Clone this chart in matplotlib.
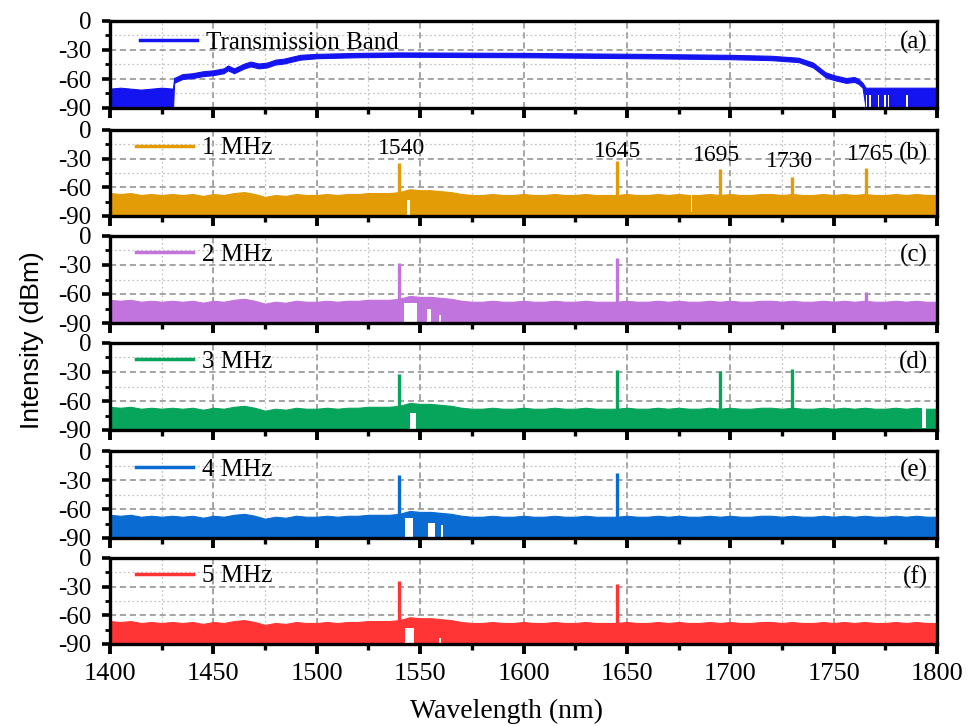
import matplotlib
matplotlib.use('Agg')
import matplotlib.pyplot as plt
from matplotlib.ticker import MultipleLocator
from matplotlib.lines import Line2D

plt.rcParams['font.family'] = 'Liberation Serif'
plt.rcParams['axes.unicode_minus'] = False

# noise floor shared by panels (b)-(f), one value every 5 nm
floor_wl = list(range(1400, 1805, 5))
floor_top = [-66, -67, -66, -68, -67, -68, -67, -68, -67, -69,
             -67, -68, -66, -65, -67, -70, -68, -69, -67, -68,
             -68, -67, -68, -67, -67, -66, -66, -66, -65, -62,
             -63, -63, -64, -65, -67, -68, -68, -67, -68, -68,
             -67, -68, -68, -67, -68, -68, -67, -68, -68, -68,
             -67, -68, -68, -67, -68, -67, -68, -68, -67, -68,
             -67, -68, -68, -67, -67, -68, -67, -68, -68, -67,
             -68, -67, -68, -67, -68, -68, -67, -68, -67, -68, -68]

# (a) transmission band: upper / lower edge of the trace
band_wl = [1400, 1405, 1410, 1415, 1420, 1425, 1430.5, 1431, 1435, 1440,
           1445, 1450, 1455, 1457, 1460, 1465, 1468, 1472, 1476, 1480,
           1484, 1488, 1492, 1500, 1510, 1520, 1540, 1600, 1656, 1700,
           1720, 1733, 1740, 1746, 1750, 1756, 1760, 1762, 1764, 1765.5,
           1770, 1780, 1790, 1800]
band_top = [-70, -69, -70, -71, -70, -69, -70, -59, -55, -54,
            -52, -51, -49, -46, -49, -44, -42, -44, -43, -40,
            -39, -37, -35, -34, -33.5, -33, -32.5, -33, -34, -35,
            -36, -38, -43, -53, -56, -59, -58, -60, -64, -69,
            -69, -69, -69, -69]
band_bot = [-90, -90, -90, -90, -90, -90, -90, -64, -60, -59,
            -57, -56, -54, -51, -54, -49, -47, -49, -48, -45,
            -44, -42, -40, -38.5, -38, -37.5, -37, -37.5, -38.5, -39.5,
            -40.5, -42.5, -48, -58, -61, -64, -63, -65, -69, -90,
            -90, -90, -90, -90]
band_gaps = [1766.0, 1767.6, 1771.7, 1774.9, 1776.5, 1785.4]

names = ['1 MHz', '2 MHz', '3 MHz', '4 MHz', '5 MHz']
colors = ['#e39b06', '#c173de', '#06a55b', '#0a6bd3', '#ff3535']
tags = ['(b)', '(c)', '(d)', '(e)', '(f)']

peak_wl = [[1540, 1645, 1695, 1730, 1765.5],
           [1540, 1645, 1765.5],
           [1540, 1645, 1695, 1730],
           [1540, 1645],
           [1540, 1645]]
peak_db = [[-35, -32.5, -41, -49, -40],
           [-28, -23, -58],
           [-32, -28, -29, -27],
           [-25, -23],
           [-24, -27.5]]

# white holes in each trace: (start nm, end nm, low dBm, high dBm)
holes = [[(1543.6, 1545.0, -90, -73), (1681.0, 1681.7, -86, -66)],
         [(1542.3, 1548.3, -90, -69), (1553.2, 1555.1, -90, -75.5), (1559.3, 1560.1, -90, -82)],
         [(1545.0, 1548.0, -90, -72), (1792.8, 1794.6, -88, -67)],
         [(1542.7, 1546.6, -90, -69), (1553.8, 1557.2, -90, -74.5), (1560.1, 1561.0, -90, -76.5)],
         [(1542.7, 1547.0, -90, -73), (1559.0, 1560.0, -90, -84)]]

# peak labels in panel (b)
lab_txt = ['1540', '1645', '1695', '1730', '1765']
lab_wl = [1541, 1645.7, 1693.5, 1728.5, 1767.7]
lab_db = [-19, -22, -27, -33, -26]

# panel edges in pixels (top, bottom)
rows = [(21, 108), (130, 216), (236, 323), (343, 430), (451, 538), (558, 644)]
W, H = 971, 726

fig = plt.figure(figsize=(W / 100, H / 100), dpi=100)
axes = []
for top, bot in rows:
    ax = fig.add_axes([110 / W, 1 - bot / H, 827 / W, (bot - top) / H])
    axes.append(ax)


def style(ax, last):
    ax.set_xlim(1400, 1800)
    ax.set_ylim(-90, 0)
    ax.xaxis.set_major_locator(MultipleLocator(50))
    ax.xaxis.set_minor_locator(MultipleLocator(25))
    ax.yaxis.set_major_locator(MultipleLocator(30))
    ax.yaxis.set_minor_locator(MultipleLocator(15))
    ax.set_axisbelow(True)
    ax.grid(which='major', color='#8c8c8c', lw=1.1, ls=(0, (4, 2.5)))
    ax.grid(which='minor', color='#c4c4c4', lw=0.9, ls=(0, (1.5, 2)))
    for s in ax.spines.values():
        s.set_linewidth(2.4)
    ax.tick_params(axis='x', which='major', direction='out', length=7, width=2.8,
                   labelsize=19, pad=7, labelbottom=last)
    ax.tick_params(axis='x', which='minor', direction='out', length=4.5, width=2.4)
    ax.tick_params(axis='y', which='major', direction='out', length=5.5, width=2.6,
                   labelsize=18, pad=8)
    ax.tick_params(axis='y', which='minor', direction='out', length=3.5, width=2)


# (a) transmission band
ax = axes[0]
style(ax, False)
ax.fill_between(band_wl, band_bot, band_top, color='#1414f0', lw=0.8, edgecolor='#1414f0')
for g in band_gaps:
    ax.fill_between([g - 0.35, g + 0.35], -90, -77, color='white', lw=0)
ax.legend([Line2D([], [], color='#1414f0', lw=2.5)], ['Transmission Band'],
          loc='center left', bbox_to_anchor=(0.036, 0.75), frameon=False,
          borderpad=0, borderaxespad=0, handlelength=2.3, handletextpad=0.35,
          fontsize=18)
ax.text(0.989, 0.75, '(a)', transform=ax.transAxes, ha='right', va='center', fontsize=18)

for i in range(5):
    ax = axes[i + 1]
    style(ax, i == 4)
    c = colors[i]
    ax.fill_between(floor_wl, -90, floor_top, color=c, lw=0.8, edgecolor=c)
    ax.vlines(peak_wl[i], -90, peak_db[i], color=c, lw=2.4)
    for s, e, lo, hi in holes[i]:
        ax.fill_between([s, e], lo, hi, color='white', lw=0)
    ax.legend([Line2D([], [], color=c, lw=2.5)], [names[i]],
              loc='center left', bbox_to_anchor=(0.031, 0.79), frameon=False,
              borderpad=0, borderaxespad=0, handlelength=2.3, handletextpad=0.35,
              fontsize=18)
    ty = 0.73 if i == 0 else 0.78
    ax.text(0.989, ty, tags[i], transform=ax.transAxes, ha='right', va='center', fontsize=18)

for t, x, y in zip(lab_txt, lab_wl, lab_db):
    axes[1].text(x, y, t, ha='center', va='center', fontsize=17)

fig.text(32 / W, 1 - 340 / H, 'Intensity (dBm)', rotation=90, ha='center', va='center',
         family='Liberation Sans', fontsize=19)
fig.text(507 / W, 1 - 711 / H, 'Wavelength (nm)', ha='center', va='center', fontsize=20)

fig.savefig('out.png', dpi=100)
